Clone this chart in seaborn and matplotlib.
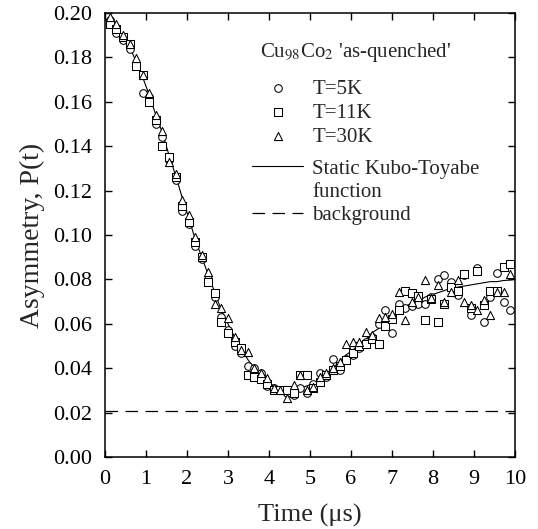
import matplotlib
matplotlib.use("Agg")
import matplotlib.pyplot as plt
from matplotlib.lines import Line2D
from matplotlib.ticker import FormatStrFormatter, MultipleLocator
import seaborn as sns
import pandas as pd

# Muon spin relaxation in Cu98Co2 ('as-quenched'): asymmetry vs time
time_us = [0.12, 0.28, 0.44, 0.60, 0.76, 0.92, 1.08, 1.24, 1.40, 1.56,
           1.72, 1.88, 2.04, 2.20, 2.36, 2.52, 2.68, 2.84, 3.00, 3.16,
           3.32, 3.48, 3.64, 3.80, 3.96, 4.12, 4.28, 4.44, 4.60, 4.76,
           4.92, 5.08, 5.24, 5.40, 5.56, 5.72, 5.88, 6.04, 6.20, 6.36,
           6.52, 6.68, 6.84, 7.00, 7.16, 7.32, 7.48, 7.64, 7.80, 7.96,
           8.12, 8.28, 8.44, 8.60, 8.76, 8.92, 9.08, 9.24, 9.40, 9.56,
           9.72, 9.88]

p_5k = [0.197, 0.191, 0.188, 0.184, 0.177, 0.164, 0.162, 0.150, 0.144, 0.134,
        0.125, 0.111, 0.105, 0.095, 0.089, 0.080, 0.072, 0.063, 0.057, 0.050,
        0.047, 0.041, 0.040, 0.038, 0.032, 0.031, 0.030, 0.029, 0.028, 0.031,
        0.029, 0.033, 0.038, 0.036, 0.044, 0.039, 0.044, 0.046, 0.049, 0.052,
        0.054, 0.060, 0.066, 0.056, 0.069, 0.067, 0.068, 0.069, 0.069, 0.072,
        0.080, 0.082, 0.079, 0.073, 0.082, 0.064, 0.085, 0.061, 0.072, 0.083,
        0.070, 0.066]

p_11k = [0.195, 0.193, 0.189, 0.186, 0.176, 0.172, 0.160, 0.152, 0.140, 0.135,
         0.126, 0.113, 0.106, 0.097, 0.090, 0.079, 0.074, 0.061, 0.056, 0.052,
         0.049, 0.037, 0.036, 0.035, 0.033, 0.030, 0.030, 0.030, 0.029, 0.037,
         0.037, 0.031, 0.034, 0.037, 0.039, 0.041, 0.0435, 0.047, 0.050, 0.051,
         0.053, 0.051, 0.059, 0.062, 0.066, 0.075, 0.074, 0.0725, 0.0616, 0.071,
         0.061, 0.069, 0.0766, 0.075, 0.0826, 0.067, 0.084, 0.0685, 0.075, 0.075,
         0.0856, 0.087]

p_30k = [0.198, 0.195, 0.190, 0.186, 0.1796, 0.172, 0.164, 0.154, 0.147, 0.133,
         0.1277, 0.1156, 0.109, 0.099, 0.091, 0.0833, 0.069, 0.067, 0.0625, 0.054,
         0.048, 0.0473, 0.040, 0.0377, 0.0354, 0.031, 0.030, 0.0264, 0.0323, 0.0368,
         0.030, 0.0315, 0.036, 0.0377, 0.040, 0.0428, 0.051, 0.0518, 0.0518, 0.0563,
         0.055, 0.0625, 0.063, 0.0646, 0.0743, 0.0616, 0.070, 0.072, 0.0796, 0.0714,
         0.0773, 0.070, 0.0743, 0.0796, 0.070, 0.0683, 0.066, 0.0706, 0.0638, 0.0743,
         0.0743, 0.0826]

# Static Kubo-Toyabe fit curve
fit_t = [0.00, 0.12, 0.28, 0.44, 0.60, 0.76, 0.92, 1.08, 1.24, 1.40, 1.56,
         1.72, 1.88, 2.04, 2.20, 2.36, 2.52, 2.68, 2.84, 3.00, 3.16,
         3.32, 3.48, 3.64, 3.80, 3.96, 4.12, 4.28, 4.44, 4.60, 4.76,
         4.92, 5.08, 5.24, 5.40, 5.56, 5.72, 5.88, 6.04, 6.20, 6.36,
         6.52, 6.68, 6.84, 7.00, 7.16, 7.32, 7.48, 7.64, 7.80, 7.96,
         8.12, 8.28, 8.44, 8.60, 8.76, 8.92, 9.08, 9.24, 9.40, 9.56,
         9.72, 9.88, 10.00]
fit_p = [0.1975, 0.196, 0.193, 0.189, 0.185, 0.178, 0.171, 0.163, 0.154, 0.146, 0.136,
         0.127, 0.117, 0.108, 0.098, 0.090, 0.082, 0.074, 0.066, 0.060, 0.054,
         0.049, 0.044, 0.040, 0.037, 0.034, 0.032, 0.031, 0.030, 0.030, 0.031,
         0.032, 0.033, 0.035, 0.037, 0.040, 0.043, 0.046, 0.048, 0.051, 0.053,
         0.056, 0.058, 0.061, 0.063, 0.066, 0.068, 0.069, 0.070, 0.072, 0.073,
         0.074, 0.075, 0.076, 0.0765, 0.077, 0.0775, 0.078, 0.0785, 0.079, 0.079,
         0.0795, 0.0797, 0.080]

background = 0.0205

series_labels = ["T=5K", "T=11K", "T=30K"]
series_markers = ["o", "s", "^"]
series_sizes = [30, 26, 34]

sns.set_theme(style="ticks")
plt.rcParams["font.family"] = ["Liberation Serif", "DejaVu Serif"]
plt.rcParams["mathtext.fontset"] = "stix"

df = pd.DataFrame({
    "t": time_us * 3,
    "P": p_5k + p_11k + p_30k,
    "T": [lab for lab in series_labels for _ in time_us],
})

fig = plt.figure(figsize=(5.38, 5.29), dpi=100)
ax = fig.add_axes([105 / 538, 1 - 457 / 529, 410 / 538, 444 / 529])

handles = []
for lab, mk, sz in zip(series_labels, series_markers, series_sizes):
    sub = df[df["T"] == lab]
    sns.scatterplot(data=sub, x="t", y="P", marker=mk, s=sz, color="white",
                    edgecolor="black", linewidth=0.75, ax=ax, label=lab,
                    legend=False, zorder=3)
    handles.append(ax.collections[-1])

sns.lineplot(x=fit_t, y=fit_p, color="black", linewidth=0.8, ax=ax,
             estimator=None, sort=False, zorder=2)
fit_line = ax.lines[-1]
bg_line = ax.axhline(background, color="black", linewidth=0.9,
                     linestyle=(0, (10, 6)), zorder=1)

ax.set_xlim(0, 10)
ax.set_ylim(0, 0.20)
ax.xaxis.set_major_locator(MultipleLocator(1))
ax.yaxis.set_major_locator(MultipleLocator(0.02))
ax.yaxis.set_major_formatter(FormatStrFormatter("%.2f"))
ax.tick_params(direction="in", top=True, right=True, length=5, width=1,
               labelsize=16, pad=9, colors="black")
for sp in ax.spines.values():
    sp.set_visible(True)
    sp.set_linewidth(1.1)
    sp.set_color("black")

ax.set_xlabel("Time (\u03bcs)", fontsize=19, labelpad=11)
ax.set_ylabel("Asymmetry, P(t)", fontsize=20, labelpad=6)

ax.text(0.378, 0.912, "Cu$_{98}$Co$_2$ 'as-quenched'", transform=ax.transAxes,
        fontsize=15, ha="left", va="center")

legend_style = dict(loc="upper left", frameon=False, fontsize=15,
                    handlelength=2.45, handletextpad=0.45, borderpad=0,
                    borderaxespad=0)

leg_markers = ax.legend(handles, series_labels,
                        bbox_to_anchor=(0.3585, 0.8514), labelspacing=0.22,
                        **legend_style)
ax.add_artist(leg_markers)

blank = Line2D([], [], linestyle="none")
ax.legend([fit_line, blank, bg_line],
          ["Static Kubo-Toyabe", "function", "background"],
          bbox_to_anchor=(0.3585, 0.671), labelspacing=0.17,
          **legend_style)

fig.savefig("out.png", dpi=100)
